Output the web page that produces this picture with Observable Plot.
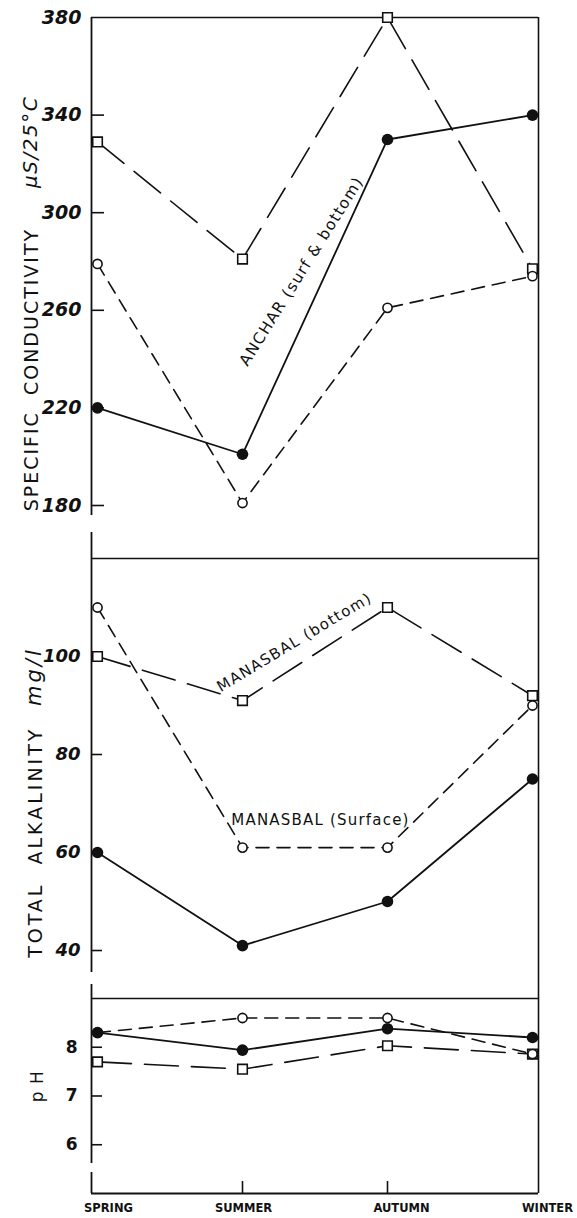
<!DOCTYPE html>
<html><head><meta charset="utf-8">
<script src="https://cdn.jsdelivr.net/npm/d3@7"></script>
<script src="https://cdn.jsdelivr.net/npm/@observablehq/plot@0.6"></script>
<style>
html,body{margin:0;padding:0;background:#fff;}
#chart{width:577px;height:1218px;position:relative;overflow:hidden;background:#fff;}
#chart svg{display:block;position:absolute;left:0;overflow:visible;}
</style></head><body><div id="chart"></div>
<script>
// ---- data ----
const seasons = ["SPRING", "SUMMER", "AUTUMN", "WINTER"];

// Specific conductivity (µS/25°C)
const condBottom  = [329, 281, 380, 277];   // Manasbal (bottom)  – squares
const condSurface = [279, 181, 261, 274];   // Manasbal (surface) – open circles
const condAnchar  = [220, 201, 330, 340];   // Anchar (surf & bottom) – filled circles
const condTicks   = [380, 340, 300, 260, 220, 180];

// Total alkalinity (mg/l)
const alkBottom  = [100, 91, 110, 92];
const alkSurface = [110, 61, 61, 90];
const alkAnchar  = [60, 41, 50, 75];
const alkTicks   = [100, 80, 60, 40];

// pH
const phBottom  = [7.7, 7.55, 8.03, 7.86];
const phSurface = [8.3, 8.6, 8.6, 7.86];
const phAnchar  = [8.3, 7.94, 8.38, 8.2];
const phTicks   = [8, 7, 6];

// ---- layout ----
const W = 577, ML = 91, MR = 39, PW = W - ML - MR;
const INK = "#111";
const FONT = "DejaVu Sans";

// letter-spacing for specific labels (text styling)
const spacing = {
  "SPECIFIC  CONDUCTIVITY": "2px",
  "TOTAL  ALKALINITY": "3px",
  "mg/l": "3px",
  "µS/25°C": "1.5px",
  "p H": "1px",
  "ANCHAR (surf & bottom)": "1.3px",
  "MANASBAL (bottom)": "1.4px",
  "MANASBAL (Surface)": "1.2px"
};

const rowsOf = vals => seasons.map((s, i) => ({season: s, value: vals[i]}));

function seriesMarks(bottom, surface, anchar) {
  const B = rowsOf(bottom), S = rowsOf(surface), A = rowsOf(anchar);
  return [
    Plot.line(B, {x: "season", y: "value", stroke: INK, strokeWidth: 1.6, strokeDasharray: "34,13"}),
    Plot.line(S, {x: "season", y: "value", stroke: INK, strokeWidth: 1.6, strokeDasharray: "13,8"}),
    Plot.line(A, {x: "season", y: "value", stroke: INK, strokeWidth: 1.8}),
    Plot.dot(B, {x: "season", y: "value", symbol: "square", r: 5.4, fill: "white", stroke: INK, strokeWidth: 1.6}),
    Plot.dot(S, {x: "season", y: "value", r: 4.6, fill: "white", stroke: INK, strokeWidth: 1.6}),
    Plot.dot(A, {x: "season", y: "value", r: 5.8, fill: INK})
  ];
}

const xScale = {type: "point", domain: seasons, padding: 0, insetLeft: 6, insetRight: 6, axis: null};

function place(svg, top) {
  svg.style.top = top + "px";
  document.getElementById("chart").appendChild(svg);
  d3.select(svg).selectAll("text").each(function() {
    const s = spacing[this.textContent];
    if (s) this.style.letterSpacing = s;
  });
}

function yTitle(t, v, dx, extra = {}) {
  return Plot.text([{t, v}], {text: "t", y: "v", frameAnchor: "left", textAnchor: "middle", lineAnchor: "middle", dx, rotate: -90, fontSize: 19, fill: INK, ...extra});
}

// ---- panel 1: specific conductivity ----
const p1 = Plot.plot({
  width: W, height: 528,
  marginLeft: ML, marginRight: MR, marginTop: 17, marginBottom: 0,
  style: {fontFamily: FONT, color: INK, background: "transparent"},
  x: xScale,
  y: {domain: [170.57, 380], label: null},
  marks: [
    Plot.ruleY([380], {stroke: INK, strokeWidth: 1.6}),
    Plot.ruleX(["WINTER"], {x: d => d, dx: 6, stroke: INK, strokeWidth: 1.6}),
    Plot.ruleX(["SPRING"], {x: d => d, dx: -6, insetBottom: 13, stroke: INK, strokeWidth: 1.8}),
    Plot.tickY(condTicks.slice(1), {y: d => d, insetRight: PW - 13, stroke: INK, strokeWidth: 1.6}),
    Plot.axisY(condTicks, {tickSize: 0, tickPadding: 10, fontSize: 19, fontStyle: "italic", fontWeight: "bold", label: null, fill: INK}),
    yTitle("SPECIFIC  CONDUCTIVITY", 235.7, -60),
    yTitle("µS/25°C", 329, -61, {fontStyle: "italic", fontSize: 20}),
    ...seriesMarks(condBottom, condSurface, condAnchar),
    Plot.text([{t: "ANCHAR (surf & bottom)", s: "SUMMER", v: 276}], {text: "t", x: "s", y: "v", dx: 59, rotate: -58, fontSize: 15.5, fill: INK})
  ]
});
place(p1, 0);

// ---- panel 2: total alkalinity ----
const p2 = Plot.plot({
  width: W, height: 452,
  marginLeft: ML, marginRight: MR, marginTop: 0, marginBottom: 0,
  style: {fontFamily: FONT, color: INK, background: "transparent"},
  x: xScale,
  y: {domain: [33.88, 126.12], label: null},
  marks: [
    Plot.ruleY([120], {stroke: INK, strokeWidth: 1.6}),
    Plot.ruleX(["WINTER"], {x: d => d, dx: 6, stroke: INK, strokeWidth: 1.6}),
    Plot.ruleX(["SPRING"], {x: d => d, dx: -6, insetTop: 4, insetBottom: 8, stroke: INK, strokeWidth: 1.8}),
    Plot.tickY(alkTicks, {y: d => d, insetRight: PW - 11, stroke: INK, strokeWidth: 1.6}),
    Plot.axisY(alkTicks, {tickSize: 0, tickPadding: 11, fontSize: 18, fontStyle: "italic", fontWeight: "bold", label: null, fill: INK}),
    yTitle("TOTAL  ALKALINITY", 62.1, -56),
    yTitle("mg/l", 95.9, -57, {fontStyle: "italic", fontSize: 21}),
    ...seriesMarks(alkBottom, alkSurface, alkAnchar),
    Plot.text([{t: "MANASBAL (bottom)", s: "SUMMER", v: 102.9}], {text: "t", x: "s", y: "v", dx: 52, rotate: -31, fontSize: 15, fill: INK}),
    Plot.text([{t: "MANASBAL (Surface)", s: "SUMMER", v: 66.5}], {text: "t", x: "s", y: "v", dx: 78, fontSize: 15, fill: INK})
  ]
});
place(p2, 528);

// ---- panel 3: pH ----
const labelDx = [11, 1, 14, 15];
const p3 = Plot.plot({
  width: W, height: 238,
  marginLeft: ML, marginRight: MR, marginTop: 0, marginBottom: 25,
  style: {fontFamily: FONT, color: INK, background: "transparent"},
  x: xScale,
  y: {domain: [5, 9.369], label: null},
  marks: [
    Plot.ruleY([9], {stroke: INK, strokeWidth: 1.6}),
    Plot.ruleY([5], {stroke: INK, strokeWidth: 1.8}),
    Plot.ruleX(["WINTER"], {x: d => d, dx: 6, stroke: INK, strokeWidth: 1.6}),
    Plot.ruleX(["SPRING"], {x: d => d, dx: -6, insetTop: 4, insetBottom: 30, stroke: INK, strokeWidth: 1.8}),
    Plot.ruleX(["SPRING"], {x: d => d, dx: -6, insetTop: 192, stroke: INK, strokeWidth: 1.8}),
    Plot.tickY(phTicks, {y: d => d, insetRight: PW - 11, stroke: INK, strokeWidth: 1.6}),
    Plot.tickX(["SUMMER", "AUTUMN"], {x: d => d, insetTop: 201, stroke: INK, strokeWidth: 1.6}),
    Plot.axisY(phTicks, {tickSize: 0, tickPadding: 14, fontSize: 17, fontWeight: "bold", label: null, fill: INK}),
    yTitle("p H", 7.2, -54, {fontSize: 17}),
    ...seriesMarks(phBottom, phSurface, phAnchar),
    ...seasons.map((s, i) => Plot.text([s], {x: d => d, text: d => d, frameAnchor: "bottom", dy: 18, dx: labelDx[i], fontSize: 11.5, fontWeight: "bold", fill: INK}))
  ]
});
place(p3, 980);
</script>
</body></html>
